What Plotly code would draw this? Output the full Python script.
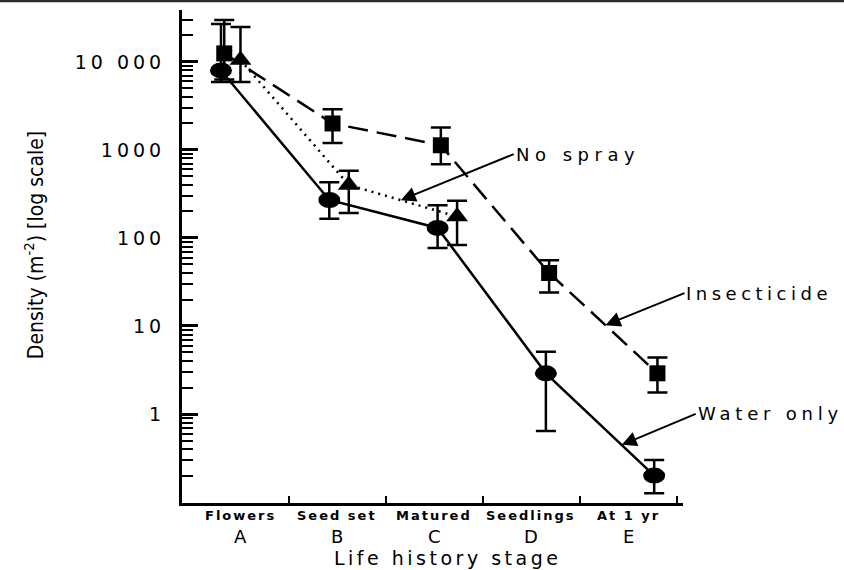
import numpy as np
import plotly.graph_objects as go

# ---- data -----------------------------------------------------------------
stages = ["A", "B", "C", "D", "E"]
stage_names = ["Flowers", "Seed set", "Matured", "Seedlings", "At 1 yr"]

# Water only (circles): mean density and error-bar limits, per stage
water = [8000, 270, 130, 2.9, 0.20]
water_hi = [27000, 430, 235, 5.1, 0.30]
water_lo = [5900, 165, 77, 0.64, 0.126]

# Insecticide (squares)
insect = [12500, 2000, 1130, 40, 2.9]
insect_hi = [30000, 2900, 1800, 56, 4.4]
insect_lo = [6300, 1200, 690, 24, 1.75]

# No spray (triangles), recorded to stage C only
nospray = [10500, 400, 175]
nospray_hi = [25000, 580, 265]
nospray_lo = [5900, 192, 83]

y_tickvals = [1, 10, 100, 1000, 10000]
y_ticktext = ["1", "10", "100", "1000", "10 000"]

# ---- styling -------------------------------------------------------------
INK = "black"
NUM_FONT = "DejaVu Sans"
Y_RANGE = [-1.011, 4.59]          # log10 units
dodge = {"water": 0.0, "insect": 0.03, "nospray": 0.18}


def spaced(text, px):
    return f'<span style="letter-spacing:{px}px">{text}</span>'


def err(vals, hi, lo):
    v = np.array(vals, float)
    return dict(type="data", symmetric=False,
                array=list(np.array(hi) - v), arrayminus=list(v - np.array(lo)),
                color=INK, thickness=2.5, width=10)


def xs(n, key):
    return list(np.arange(n) + dodge[key])


# minor log ticks (2..9 in every decade shown)
minor_vals = [d * 10.0 ** k for k in range(-1, 5) for d in range(2, 10)
              if Y_RANGE[0] <= np.log10(d * 10.0 ** k) <= Y_RANGE[1]]

fig = go.Figure()

fig.add_trace(go.Scatter(
    x=xs(len(water), "water"), y=water, xaxis="x2", mode="lines",
    line=dict(color=INK, width=2.5), error_y=err(water, water_hi, water_lo),
    hoverinfo="skip"))

fig.add_trace(go.Scatter(
    x=xs(len(nospray), "nospray"), y=nospray, xaxis="x2", mode="lines+markers",
    line=dict(color=INK, width=2.5, dash="2px,5px"),
    marker=dict(symbol="triangle-up", size=19, color=INK),
    error_y=err(nospray, nospray_hi, nospray_lo), hoverinfo="skip"))

fig.add_trace(go.Scatter(
    x=xs(len(insect), "insect"), y=insect, xaxis="x2", mode="lines+markers",
    line=dict(color=INK, width=2.5, dash="20px,9px"),
    marker=dict(symbol="square", size=16, color=INK),
    error_y=err(insect, insect_hi, insect_lo), hoverinfo="skip"))

# Water-only means drawn as flattened ellipses; y2 is a linear twin of the
# log axis (same range in log10 units) so the anchors are log10 values.
shapes = []
for xv, yv in zip(xs(len(water), "water"), water):
    shapes.append(dict(type="circle", xref="x2", yref="y2",
                       xsizemode="pixel", ysizemode="pixel",
                       xanchor=xv, yanchor=float(np.log10(yv)),
                       x0=-11, x1=11, y0=-8, y1=8,
                       fillcolor=INK, line=dict(width=0), layer="above"))

# rule across the top of the page
shapes.append(dict(type="line", xref="paper", yref="paper",
                   x0=-0.4, x1=1.4, y0=1.0183, y1=1.0183,
                   line=dict(color="#2a2a2a", width=2.5)))

annotations = []
# stage names and letters under the axis
for i, (name, letter) in enumerate(zip(stage_names, stages)):
    annotations.append(dict(x=i, xref="x", y=0, yref="paper", yshift=-12,
                            text=f"<b>{spaced(name, 2)}</b>", showarrow=False,
                            xanchor="center", yanchor="middle",
                            font=dict(family=NUM_FONT, size=13, color=INK)))
    annotations.append(dict(x=i, xref="x", y=0, yref="paper", yshift=-33,
                            text=letter, showarrow=False,
                            xanchor="center", yanchor="middle",
                            font=dict(family=NUM_FONT, size=18, color=INK)))

annotations.append(dict(x=0.529, xref="paper", y=0, yref="paper", yshift=-55,
                        text=spaced("Life history stage", 3.5), showarrow=False,
                        xanchor="center", yanchor="middle",
                        font=dict(family=NUM_FONT, size=19, color=INK)))

annotations.append(dict(x=0, xref="paper", xshift=-148, y=0.523, yref="paper",
                        text="Density (m<sup>-2</sup>) [log scale]", textangle=-90,
                        showarrow=False, xanchor="center", yanchor="middle",
                        font=dict(family="Liberation Sans Narrow, DejaVu Sans Condensed, Liberation Sans",
                                  size=21, color=INK)))


def along(xv, yv, k, t):
    """Point a fraction t of the way along segment k of a series (log y)."""
    x = xv[k] + t * (xv[k + 1] - xv[k])
    ly = np.log10(yv[k]) + t * (np.log10(yv[k + 1]) - np.log10(yv[k]))
    return float(x), float(ly)


for label, xv, yv, k, t, ax, ay, ls in [
    ("No spray", xs(len(nospray), "nospray"), nospray, 1, 0.48, 113, -46, 5.5),
    ("Insecticide", xs(len(insect), "insect"), insect, 3, 0.52, 79, -32, 4.5),
    ("Water only", xs(len(water), "water"), water, 3, 0.70, 74, -31, 4.8),
]:
    px, py = along(xv, yv, k, t)
    annotations.append(dict(x=px, xref="x2", y=py, yref="y",
                            text=spaced(label, ls), showarrow=True,
                            ax=ax, ay=ay, xanchor="left", yanchor="middle",
                            arrowhead=2, arrowsize=1.5, arrowwidth=2,
                            arrowcolor=INK, standoff=0,
                            font=dict(family=NUM_FONT, size=18, color=INK)))

fig.update_layout(
    width=844, height=570,
    margin=dict(l=182, r=161, t=10, b=67),
    paper_bgcolor="white", plot_bgcolor="white",
    showlegend=False,
    shapes=shapes, annotations=annotations,
    xaxis=dict(range=[-0.598, 4.567], showline=True, linewidth=3, linecolor=INK,
               tickvals=[0.5, 1.5, 2.5, 3.5, 4.5], showticklabels=False,
               ticks="inside", ticklen=7, tickwidth=2, tickcolor=INK,
               showgrid=False, zeroline=False, anchor="y"),
    xaxis2=dict(range=[-0.36, 4.266], overlaying="x", anchor="y",
                visible=False, showgrid=False, zeroline=False),
    yaxis=dict(type="log", range=Y_RANGE, showline=True, linewidth=3,
               linecolor=INK, tickvals=y_tickvals,
               ticktext=[spaced(t, 4) for t in y_ticktext],
               ticks="inside", ticklen=16, tickwidth=2.5, tickcolor=INK,
               ticklabelstandoff=10,
               tickfont=dict(family=NUM_FONT, size=19, color=INK),
               minor=dict(ticks="inside", ticklen=11, tickwidth=2,
                          tickcolor=INK, tickvals=minor_vals, showgrid=False),
               showgrid=False, zeroline=False),
    yaxis2=dict(type="linear", range=Y_RANGE, overlaying="y", anchor="x",
                visible=False, showgrid=False, zeroline=False),
)

fig.write_html("out.html")
